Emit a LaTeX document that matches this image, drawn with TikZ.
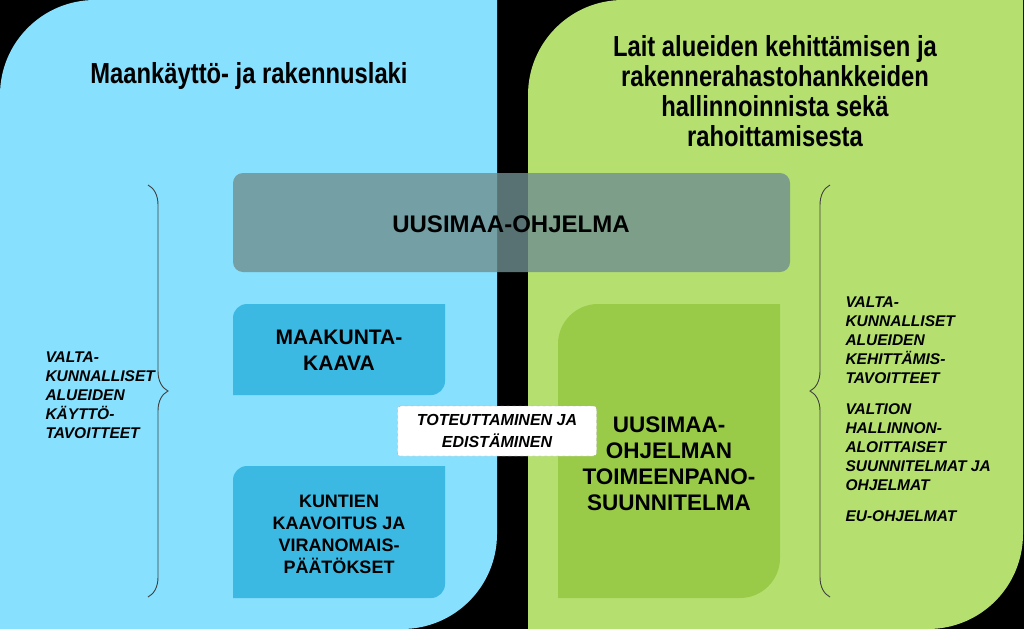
\documentclass[tikz,border=0pt]{standalone}
\usepackage{fontspec}
\setmainfont{Liberation Sans}
\newfontfamily\narrowf[FakeStretch=0.82]{Liberation Sans}
\usetikzlibrary{decorations.pathreplacing}
\definecolor{lblue}{HTML}{87E0FD}
\definecolor{dblue}{HTML}{3BB9E3}
\definecolor{lgreen}{HTML}{B5E06F}
\definecolor{dgreen}{HTML}{9ACB48}
\definecolor{grayb}{HTML}{6F8F90}
\newcommand{\tlbrbox}[6]{% x1 ytop x2 ybot r style (pixel coords, y down)
  \fill[#6] (#1pt,-#4pt) -- (#1pt,-#2pt-#5pt) arc(180:90:#5pt) -- (#3pt,-#2pt) -- (#3pt,-#4pt+#5pt) arc(0:-90:#5pt) -- cycle;}
\tikzset{
  title/.style={font=\narrowf\bfseries\fontsize{29}{30}\selectfont, align=center, text=black},
  boxtxt/.style={font=\bfseries\fontsize{21}{26}\selectfont, align=center},
  smalltxt/.style={font=\bfseries\fontsize{18}{22}\selectfont, align=center},
  sidetxt/.style={font=\bfseries\itshape\fontsize{15.5}{19}\selectfont, align=left, anchor=north west},
  bracey/.style={draw=black!75, line width=0.9pt, decorate, decoration={brace, amplitude=20pt, aspect=0.5}},
}
\begin{document}
\begin{tikzpicture}[x=1pt,y=1pt]
\fill[black] (0,0) rectangle (1024,-629);
\useasboundingbox (0,0) rectangle (1024,-629);
\tlbrbox{0}{0}{497}{629}{95}{lblue}
\tlbrbox{528}{0}{1023}{629}{95}{lgreen}
\tlbrbox{233}{304}{445}{395}{14}{dblue}
\tlbrbox{233}{466}{445}{598}{14}{dblue}
\tlbrbox{558}{304}{780}{598}{40}{dgreen}
\fill[grayb, opacity=0.8, rounded corners=10pt] (233,-173) rectangle (790,-272);
\node[title] (t1) at (249,-76) {Maankäyttö- ja rakennuslaki};
\node[title] (t2) at (775,-91) {Lait alueiden kehittämisen ja\\rakennerahastohankkeiden\\hallinnoinnista sekä\\rahoittamisesta};
\node[boxtxt, font=\bfseries\fontsize{24}{28}\selectfont] (uo) at (511,-224) {UUSIMAA-OHJELMA};
\node[boxtxt] (mk) at (339,-350) {MAAKUNTA-\\KAAVA};
\node[smalltxt] (ku) at (339,-534) {KUNTIEN\\KAAVOITUS JA\\VIRANOMAIS-\\PÄÄTÖKSET};
\node[boxtxt, font=\bfseries\fontsize{22.5}{26}\selectfont] (ut) at (669,-464) {UUSIMAA-\\OHJELMAN\\TOIMEENPANO-\\SUUNNITELMA};
\node[draw=gray!70, dashed, fill=white, rounded corners=3pt, minimum width=199pt, minimum height=50pt, font=\bfseries\itshape\fontsize{16}{22}\selectfont, align=center] (te) at (497,-431) {TOTEUTTAMINEN JA\\EDISTÄMINEN};
\node[sidetxt] (vl) at (42,-348) {VALTA-\\KUNNALLISET\\ALUEIDEN\\KÄYTTÖ-\\TAVOITTEET};
\node[sidetxt] (vr) at (842,-293) {VALTA-\\KUNNALLISET\\ALUEIDEN\\KEHITTÄMIS-\\TAVOITTEET\\[12pt]VALTION\\HALLINNON-\\ALOITTAISET\\SUUNNITELMAT JA\\OHJELMAT\\[12pt]EU-OHJELMAT};
\coordinate (lb1) at (148,-185);
\coordinate (lb2) at (148,-597);
\coordinate (rb1) at (830,-185);
\coordinate (rb2) at (830,-597);
\draw[bracey] (lb1) -- (lb2);
\draw[bracey] (rb2) -- (rb1);
\end{tikzpicture}
\end{document}
